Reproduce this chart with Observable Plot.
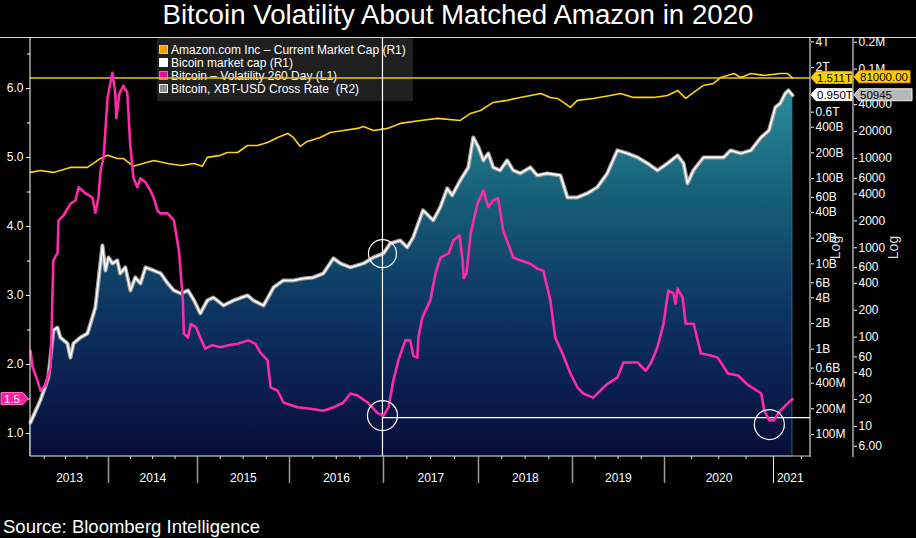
<!DOCTYPE html>
<html>
<head>
<meta charset="utf-8">
<script src="https://cdn.jsdelivr.net/npm/d3@7"></script>
<script src="https://cdn.jsdelivr.net/npm/@observablehq/plot@0.6"></script>
<style>
html,body{margin:0;padding:0;background:#000;}
#wrap{width:916px;height:538px;background:#000;overflow:hidden;font-family:"Liberation Sans",Arial,sans-serif;color:#fff;}
#title{height:37px;line-height:30px;text-align:center;font-size:27.7px;border-bottom:1px solid #d8d8d8;white-space:nowrap;}
#chart{position:relative;width:916px;height:470px;}
#chart svg{position:absolute;left:0;top:0;}
#legend{position:absolute;left:157px;top:0;width:256px;height:63px;background:#1f1f1f;font-size:12px;padding-top:6px;box-sizing:border-box;}
#legend .row{height:13px;line-height:13px;white-space:nowrap;padding-left:2px;}
#legend .sw{display:inline-block;width:7px;height:7px;border:1px solid;margin-right:3px;vertical-align:0px;}
#source{margin-top:8px;font-size:18.5px;line-height:22px;padding-left:3px;white-space:nowrap;}
</style>
</head>
<body>
<div id="wrap">
  <div id="title">Bitcoin Volatility About Matched Amazon in 2020</div>
  <div id="chart">
    <div id="legend">
      <div class="row"><span class="sw" style="background:#f5a000;border-color:#ffd800"></span>Amazon.com Inc – Current Market Cap (R1)</div>
      <div class="row"><span class="sw" style="background:#ffffff;border-color:#ffffff"></span>Bicoin market cap (R1)</div>
      <div class="row"><span class="sw" style="background:#e0109a;border-color:#ff5cc8"></span>Bitcoin – Volatility 260 Day (L1)</div>
      <div class="row"><span class="sw" style="background:#8a8a8a;border-color:#ffffff"></span>Bitcoin, XBT-USD Cross Rate&nbsp;&nbsp;(R2)</div>
    </div>
  </div>
  <div id="source">Source: Bloomberg Intelligence</div>
</div>
<script>
// ---------------- DATA ----------------
const btcDates = ["2013-02-01","2013-03-15","2013-04-18","2013-05-10","2013-05-27","2013-06-09","2013-07-09","2013-07-22","2013-08-04","2013-09-03",
"2013-10-03","2013-10-24","2013-11-06","2013-11-19","2013-12-06","2013-12-19","2014-01-01","2014-01-17","2014-02-06","2014-02-18",
"2014-03-11","2014-04-01","2014-04-21","2014-05-12","2014-06-02","2014-07-05","2014-08-03","2014-09-01","2014-09-26","2014-10-25",
"2014-11-23","2014-12-18","2015-01-12","2015-02-09","2015-03-05","2015-04-14","2015-05-24","2015-07-18","2015-08-11","2015-09-20",
"2015-10-30","2015-12-08","2016-01-16","2016-02-24","2016-04-03","2016-05-12","2016-06-20","2016-07-17","2016-08-25","2016-10-15",
"2016-11-23","2017-01-01","2017-01-27","2017-03-06","2017-04-02","2017-04-25","2017-06-02","2017-07-11","2017-08-07","2017-09-03",
"2017-09-22","2017-10-23","2017-11-23","2017-12-12","2018-01-01","2018-01-20","2018-02-08","2018-02-27","2018-03-26","2018-04-22",
"2018-05-16","2018-06-12","2018-07-21","2018-08-17","2018-09-25","2018-11-15","2018-12-12","2019-01-20","2019-02-28","2019-04-09",
"2019-05-19","2019-06-28","2019-08-07","2019-09-16","2019-10-26","2019-12-04","2020-01-11","2020-02-14","2020-03-05","2020-03-18",
"2020-04-07","2020-05-11","2020-06-14","2020-07-18","2020-08-10","2020-09-13","2020-10-17","2020-11-20","2020-12-17","2021-01-07",
"2021-01-23","2021-02-08","2021-02-18","2021-03-03"];
const btcPrice = [11.1,19.5,35,119,128,99,85,59,85,99,
110,166,215,431,1062,557,780,668,722,516,
603,333,466,399,603,557,516,399,333,308,
333,257,184,257,278,226,257,293,257,226,
360,431,431,454,466,516,760,668,603,668,
780,865,1119,1208,1009,1306,2618,2023,2831,4616,
3855,5675,7930,17180,13280,9500,11380,7930,7340,9500,
7340,6790,7930,6450,6790,6450,3660,3660,4056,4740,
6790,12300,11380,10260,8790,7340,8790,10800,8790,5250,
7340,10260,10260,10260,12300,11380,12300,17180,20600,37240,
41300,53450,57700,50945];
const btcMcap = [138e6,250e6,466e6,1.656e9,1.796e9,1.372e9,1.166e9,0.80e9,1.166e9,1.372e9,
1.528e9,2.353e9,3.083e9,6.39e9,16.4e9,8.37e9,11.9e9,10.1e9,10.96e9,7.71e9,
9.07e9,4.88e9,6.93e9,5.89e9,9.07e9,8.37e9,7.71e9,5.89e9,4.88e9,4.50e9,
4.88e9,3.72e9,2.62e9,3.72e9,4.04e9,3.25e9,3.72e9,4.26e9,3.72e9,3.25e9,
5.29e9,6.39e9,6.39e9,6.74e9,6.93e9,7.71e9,11.6e9,10.1e9,9.07e9,10.1e9,
11.9e9,13.2e9,17.3e9,18.8e9,15.6e9,20.4e9,42.3e9,32.3e9,45.8e9,76.5e9,
63.4e9,95.1e9,134.9e9,303e9,232e9,163e9,197e9,134.9e9,124e9,163e9,
124e9,115e9,134.9e9,109e9,115e9,109e9,60e9,60e9,66.8e9,78.7e9,
115e9,213e9,197e9,177e9,150e9,124e9,150e9,187e9,150e9,87.6e9,
124e9,177e9,177e9,177e9,213e9,197e9,213e9,303e9,366e9,682e9,
759e9,995e9,1079e9,950e9];

const amzDates = ["2013-02-01","2013-03-15","2013-05-10","2013-07-22","2013-10-03","2013-11-28","2013-12-28","2014-02-06","2014-03-03","2014-04-13",
"2014-06-10","2014-07-05","2014-09-01","2014-10-25","2014-12-18","2015-01-20","2015-02-09","2015-04-02","2015-04-30","2015-06-09",
"2015-07-18","2015-08-27","2015-10-06","2015-11-15","2015-12-25","2016-01-16","2016-02-12","2016-03-10","2016-04-30","2016-06-08",
"2016-07-29","2016-09-22","2016-10-15","2016-11-23","2017-01-16","2017-03-06","2017-05-23","2017-07-28","2017-10-23","2017-12-01",
"2018-01-09","2018-02-27","2018-04-22","2018-06-12","2018-08-31","2018-10-07","2018-11-03","2018-11-27","2018-12-24","2019-01-20",
"2019-03-24","2019-05-31","2019-07-10","2019-08-31","2019-11-19","2020-01-11","2020-02-14","2020-03-12","2020-04-08","2020-05-11",
"2020-06-14","2020-07-08","2020-08-21","2020-09-13","2020-10-17","2020-11-30","2021-01-23","2021-02-14","2021-03-03"];
const amzCap = [118e9,124e9,118e9,135e9,135e9,172e9,187e9,172e9,172e9,139e9,
155e9,163e9,150e9,142e9,150e9,139e9,177e9,187e9,202e9,202e9,
244e9,244e9,265e9,303e9,338e9,303e9,238e9,272e9,303e9,347e9,
366e9,387e9,408e9,366e9,387e9,443e9,480e9,507e9,480e9,580e9,
628e9,780e9,824e9,893e9,995e9,893e9,869e9,780e9,682e9,824e9,
869e9,942e9,995e9,893e9,893e9,942e9,1079e9,869e9,1021e9,1234e9,
1303e9,1531e9,1706e9,1531e9,1706e9,1617e9,1706e9,1706e9,1511e9];

const volDates = ["2013-02-01","2013-02-10","2013-03-03","2013-03-16","2013-04-06","2013-04-28","2013-05-10","2013-05-28","2013-06-01","2013-06-22",
"2013-07-22","2013-08-13","2013-08-26","2013-09-25","2013-10-24","2013-11-06","2013-11-19","2013-11-28","2013-12-11","2013-12-28",
"2014-01-17","2014-01-29","2014-02-02","2014-02-15","2014-03-03","2014-03-19","2014-03-31","2014-04-13","2014-04-29","2014-05-12",
"2014-06-02","2014-06-22","2014-07-05","2014-07-21","2014-08-03","2014-09-01","2014-09-26","2014-10-17","2014-11-02","2014-11-06",
"2014-11-23","2014-12-05","2014-12-26","2015-01-12","2015-02-01","2015-03-01","2015-04-02","2015-05-03","2015-06-09","2015-07-22",
"2015-08-19","2015-09-08","2015-10-06","2015-10-18","2015-11-15","2015-12-08","2016-02-01","2016-03-22","2016-05-12","2016-06-20",
"2016-07-29","2016-08-25","2016-09-22","2016-10-31","2016-12-08","2017-01-01","2017-01-20","2017-02-08","2017-02-27","2017-03-26",
"2017-04-14","2017-04-25","2017-05-11","2017-05-15","2017-05-30","2017-06-30","2017-07-20","2017-08-08","2017-09-08","2017-09-27",
"2017-10-20","2017-11-01","2017-11-05","2017-11-16","2017-12-02","2017-12-28","2018-01-20","2018-02-08","2018-02-27","2018-03-18",
"2018-04-07","2018-04-26","2018-05-16","2018-06-12","2018-07-21","2018-08-17","2018-09-10","2018-10-07","2018-10-26","2018-11-23",
"2018-12-24","2019-01-20","2019-02-13","2019-03-24","2019-04-21","2019-05-19","2019-06-28","2019-07-22","2019-09-16","2019-10-18",
"2019-11-07","2019-12-04","2019-12-28","2020-01-14","2020-01-31","2020-02-07","2020-02-14","2020-03-02","2020-03-12","2020-04-08",
"2020-05-02","2020-06-05","2020-06-28","2020-08-01","2020-09-04","2020-10-08","2020-11-21","2020-12-01","2020-12-18","2021-01-01",
"2021-01-23","2021-02-14","2021-03-03"];
const volValues = [2.20,1.96,1.77,1.62,1.70,1.96,3.51,3.62,4.09,4.16,
4.33,4.38,4.57,4.48,4.42,4.20,4.42,4.81,5.00,5.87,
6.23,5.93,5.57,5.93,6.04,5.94,5.20,4.71,4.57,4.70,
4.64,4.52,4.42,4.23,4.19,4.19,4.09,3.65,2.93,2.45,
2.39,2.59,2.54,2.39,2.23,2.28,2.25,2.28,2.30,2.35,
2.30,2.17,2.06,1.67,1.62,1.45,1.38,1.36,1.33,1.38,
1.45,1.58,1.55,1.45,1.30,1.26,1.38,1.77,2.06,2.35,
2.35,2.13,2.10,2.39,2.68,2.93,3.32,3.55,3.61,3.80,
3.87,3.51,3.25,3.32,3.90,4.33,4.52,4.28,4.38,4.41,
3.94,3.75,3.55,3.51,3.46,3.39,3.36,2.93,2.39,2.16,
1.87,1.67,1.58,1.52,1.62,1.72,1.81,2.03,2.03,1.91,
2.01,2.25,2.59,3.07,3.03,2.88,3.10,2.97,2.59,2.59,
2.16,2.13,2.10,1.87,1.84,1.70,1.58,1.33,1.19,1.19,
1.33,1.43,1.50];

// axes / ticks
const volDomain = [0.667, 6.725];
const volTicks = [1, 2, 3, 4, 5, 6];
const volMinorTicks = [1.5, 2.5, 3.5, 4.5, 5.5, 6.5];
const r1Domain = [5.52e7, 4.38e12];
const r1Ticks = [1e8, 2e8, 4e8, 6e8, 1e9, 2e9, 4e9, 6e9, 1e10, 2e10, 4e10, 6e10, 1e11, 2e11, 4e11, 6e11, 2e12, 4e12];
const r1TickLabels = ["100M","200M","400M","0.6B","1B","2B","4B","6B","10B","20B","40B","60B","100B","200B","400B","0.6T","2T","4T"];
const r2Domain = [4.61, 2.2e5];
const r2Ticks = [6, 10, 20, 40, 60, 100, 200, 400, 600, 1000, 2000, 4000, 6000, 10000, 20000, 40000, 100000, 200000];
const r2TickLabels = ["6.00","10","20","40","60","100","200","400","600","1000","2000","4000","6000","10000","20000","40000","0.1M","0.2M"];
const xBreakDates = ["2013-02-01","2014-01-01","2015-01-01","2016-01-01","2017-01-01","2018-01-01","2019-01-01","2020-01-01","2021-01-01","2021-04-30"];
const yearStarts = ["2014-01-01","2015-01-01","2016-01-01","2017-01-01","2018-01-01","2019-01-01","2020-01-01"];
const lastYearStart = ["2021-01-01"];
const yearLabelDates = ["2013-07-18","2014-07-02","2015-07-02","2016-07-02","2017-07-02","2018-07-02","2019-07-02","2020-07-02","2021-02-24"];

// annotations
const annotLowDate = "2016-12-28";
const annotVolLow2016 = 1.26;
const annotMcapAtLow = 13.2e9;
const annotLowDate2020 = "2020-12-18";
const annotVolLow2020 = 1.13;
const annotVolLevel = 1.23;
const amazonLevel = 1.511e12;
const amazonLevelR2 = 81000;

// ---------------- BUILD ----------------
const parse = d3.utcParse("%Y-%m-%d");
const btc = btcDates.map((d, i) => ({date: parse(d), price: btcPrice[i], mcap: btcMcap[i]}));
const amazon = amzDates.map((d, i) => ({date: parse(d), cap: amzCap[i]}));
const vol = volDates.map((d, i) => ({date: parse(d), v: volValues[i]}));
const xDom = xBreakDates.map(parse);
const xEnd = xDom[xDom.length - 1];

const NS = "http://www.w3.org/2000/svg";
const W = 916, H = 470;
const base = {width: W, height: H, marginTop: 0, marginBottom: 52, marginLeft: 30, marginRight: 106};
const style = {background: "transparent", color: "#fff", fontFamily: "'Liberation Sans', Arial, sans-serif", fontSize: "12px", overflow: "visible"};
const xOpt = {type: "utc", domain: xDom, range: [30, 108, 197, 289, 383, 478, 572, 664, 773, 810]};

function el(name, attrs) {
  const e = document.createElementNS(NS, name);
  for (const k in attrs) e.setAttribute(k, attrs[k]);
  return e;
}
const edge = (side, stroke, sw = 1) => (index, scales, values, d) => {
  const L = d.marginLeft, R = d.width - d.marginRight, T = d.marginTop, B = d.height - d.marginBottom;
  const c = {left: [L, T, L, B], right: [R, T, R, B + 1], bottom: [L, B, R, B]}[side];
  return el("line", {x1: c[0], y1: c[1], x2: c[2], y2: c[3], stroke, "stroke-width": sw});
};
const tagMark = (list) => (index, scales, values, d) => {
  const g = el("g", {});
  for (const t of list) {
    const y = scales.y(t.value);
    const h = 12, p = 5;
    let pts, tx, anchor;
    if (t.side === "right") {
      const x0 = d.width - d.marginRight + 1;
      pts = [[x0, y], [x0 + p, y - h / 2], [x0 + p + t.w, y - h / 2], [x0 + p + t.w, y + h / 2], [x0 + p, y + h / 2]];
      tx = x0 + p + 1; anchor = "start";
    } else {
      const x0 = d.marginLeft - 2;
      pts = [[x0, y], [x0 - p, y - h / 2], [x0 - p - t.w, y - h / 2], [x0 - p - t.w, y + h / 2], [x0 - p, y + h / 2]];
      tx = x0 - p - t.w / 2; anchor = "middle";
    }
    g.appendChild(el("polygon", {points: pts.map(q => q.join(",")).join(" "), fill: t.fill, stroke: t.stroke, "stroke-width": 1}));
    const tt = el("text", {x: tx, y: y, dy: "0.36em", fill: t.color, "text-anchor": anchor, "font-size": 11.5});
    tt.textContent = t.text;
    g.appendChild(tt);
  }
  return g;
};
const gradDefs = (index, scales, values, d) => {
  const defs = el("defs", {});
  const lg = el("linearGradient", {id: "areaGrad", gradientUnits: "userSpaceOnUse", x1: 0, y1: d.marginTop, x2: 0, y2: d.height - d.marginBottom});
  [[0, "#3aa3b0"], [0.2, "#237f8f"], [0.4, "#155c76"], [0.65, "#0d3562"], [0.85, "#0a1d4c"], [1, "#070e38"]].forEach(([o, c]) => {
    lg.appendChild(el("stop", {offset: o, "stop-color": c}));
  });
  defs.appendChild(lg);
  return defs;
};
const tickLabels = (ticks, labels) => Plot.text(ticks, {y: d => d, text: (d, i) => labels[i], frameAnchor: "right", dx: 5, textAnchor: "start", fill: "#fff", fontSize: 12});

const chart = document.getElementById("chart");

// Layer 1: R1 – area of Bitcoin market cap, Amazon, R1 axis
chart.appendChild(Plot.plot({
  ...base, style,
  x: {...xOpt, axis: null},
  y: {type: "log", domain: r1Domain},
  marks: [
    gradDefs,
    Plot.areaY(btc, {x: "date", y1: r1Domain[0], y2: "mcap", fill: "url(#areaGrad)", stroke: "#2a7fa5", strokeWidth: 0.8}),
    Plot.ruleY([amazonLevel], {stroke: "#f5c400", strokeWidth: 1.5}),
    Plot.line(amazon, {x: "date", y: "cap", stroke: "#ffd21a", strokeWidth: 1.6}),
    edge("right", "#fff"),
    Plot.axisY({anchor: "right", ticks: r1Ticks, tickFormat: () => "", tickSize: 3, stroke: "#fff", label: null}),
    tickLabels(r1Ticks, r1TickLabels),
    Plot.axisY({anchor: "right", ticks: [], label: "Log", labelAnchor: "center", labelOffset: 29, labelArrow: "none", fill: "#ddd", fontSize: 14}),
    tagMark([
      {side: "right", value: amazonLevel, text: "1.511T", fill: "#ffd000", stroke: "#ff9a00", color: "#000", w: 36},
      {side: "right", value: btcMcap[btcMcap.length - 1], text: "0.950T", fill: "#ffffff", stroke: "#ffffff", color: "#000", w: 36}
    ])
  ]
}));

// Layer 2: R2 – XBT-USD cross rate
chart.appendChild(Plot.plot({
  ...base, marginRight: 63, style,
  x: {...xOpt, axis: null},
  y: {type: "log", domain: r2Domain},
  marks: [
    Plot.line(btc, {x: "date", y: "price", stroke: "#a3a3a3", strokeWidth: 4}),
    edge("right", "#fff"),
    Plot.axisY({anchor: "right", ticks: r2Ticks, tickFormat: () => "", tickSize: 3, stroke: "#fff", label: null}),
    tickLabels(r2Ticks, r2TickLabels),
    Plot.axisY({anchor: "right", ticks: [], label: "Log", labelAnchor: "center", labelOffset: 44, labelArrow: "none", fill: "#ddd", fontSize: 14}),
    tagMark([
      {side: "right", value: amazonLevelR2, text: "81000.00", fill: "#ffd000", stroke: "#ff9a00", color: "#000", w: 51},
      {side: "right", value: btcPrice[btcPrice.length - 1], text: "50945", fill: "#b8b8b8", stroke: "#f0f0f0", color: "#000", w: 53}
    ])
  ]
}));

// Layer 3: R1 – Bitcoin market cap line
chart.appendChild(Plot.plot({
  ...base, style,
  x: {...xOpt, axis: null},
  y: {type: "log", domain: r1Domain, axis: null},
  marks: [
    Plot.line(btc, {x: "date", y: "mcap", stroke: "#ffffff", strokeWidth: 1.6}),
    Plot.dot([{date: parse(annotLowDate), v: annotMcapAtLow}], {x: "date", y: "v", r: 14, stroke: "#fff", fill: "none", strokeWidth: 1.2})
  ]
}));

// Layer 4: L1 – volatility, left axis, time axis, annotations
chart.appendChild(Plot.plot({
  ...base, style,
  x: xOpt,
  y: {domain: volDomain},
  marks: [
    Plot.ruleX([parse(annotLowDate)], {stroke: "#fff", strokeWidth: 1.2}),
    Plot.ruleY([{y: annotVolLevel, x1: parse(annotLowDate), x2: xEnd}], {y: "y", x1: "x1", x2: "x2", stroke: "#fff", strokeWidth: 1.2}),
    Plot.line(vol, {x: "date", y: "v", stroke: "#ff2aa8", strokeWidth: 2.6}),
    Plot.dot([{date: parse(annotLowDate), v: annotVolLow2016}, {date: parse(annotLowDate2020), v: annotVolLow2020}], {x: "date", y: "v", r: 15, stroke: "#fff", fill: "none", strokeWidth: 1.2}),
    edge("left", "#fff"),
    edge("bottom", "#d0d0d0"),
    Plot.axisY({anchor: "left", ticks: volTicks, tickFormat: d3.format(".1f"), tickSize: 4, tickPadding: 3, stroke: "#fff", fill: "#fff", label: null}),
    Plot.axisY({anchor: "left", ticks: volMinorTicks, tickFormat: () => "", tickSize: 3, stroke: "#fff", label: null}),
    Plot.axisX({ticks: d3.utcMonth.every(3).range(xDom[0], xEnd), tickFormat: () => "", tickSize: 3, stroke: "#ddd", label: null}),
    Plot.axisX({ticks: yearStarts.map(parse), tickFormat: () => "", tickSize: 27, stroke: "#9a9a9a", strokeWidth: 1.5, label: null}),
    Plot.axisX({ticks: lastYearStart.map(parse), tickFormat: () => "", tickSize: 27, stroke: "#e8e8e8", label: null}),
    Plot.axisX({ticks: yearLabelDates.map(parse), tickFormat: d3.utcFormat("%Y"), tickSize: 0, tickPadding: 17, fill: "#fff", label: null}),
    tagMark([{side: "left", value: volValues[volValues.length - 1], text: "1.5", fill: "#ff1f9f", stroke: "#ff6cc4", color: "#fff", w: 22}])
  ]
}));
</script>
</body>
</html>
